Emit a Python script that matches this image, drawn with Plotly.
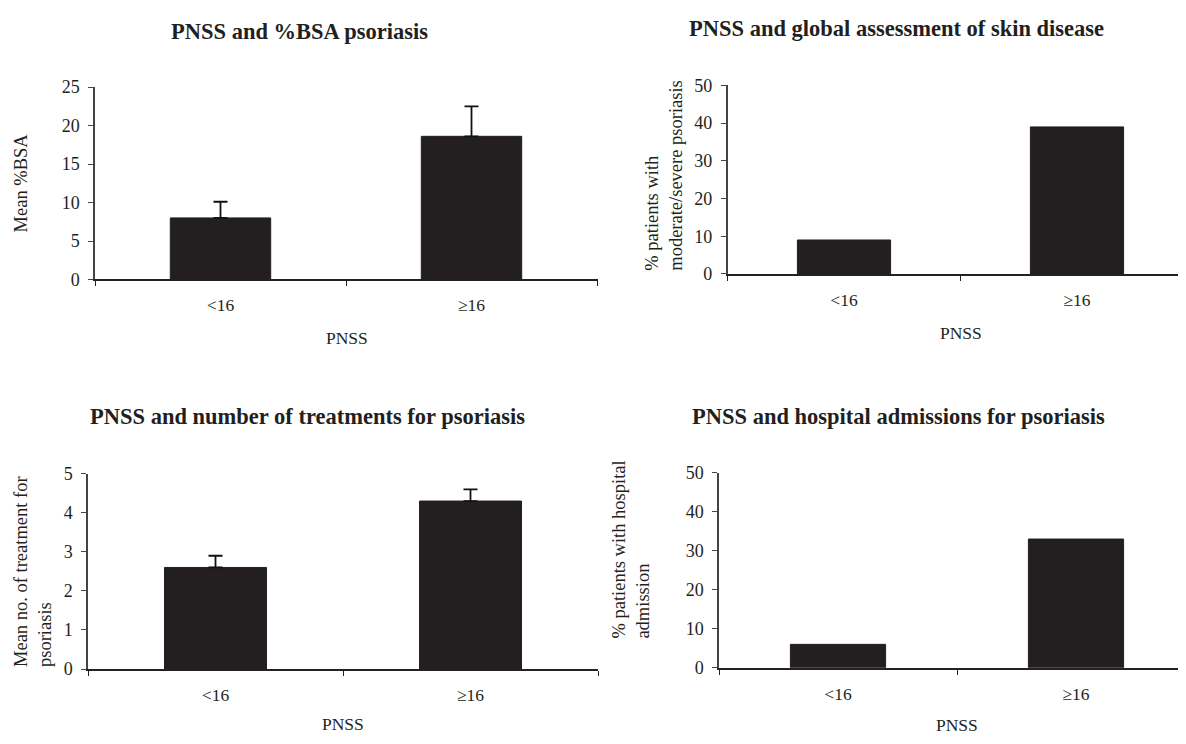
import plotly.graph_objects as go

# ---------------- data ----------------
categories = ["<16", "\u226516"]

bsa_mean = [8.0, 18.6]
bsa_err = [2.1, 3.9]

global_pct = [9, 39]

treat_mean = [2.6, 4.3]
treat_err = [0.3, 0.3]

hosp_pct = [6, 33]

titles = [
    "PNSS and %BSA psoriasis",
    "PNSS and global assessment of skin disease",
    "PNSS and number of treatments for psoriasis",
    "PNSS and hospital admissions for psoriasis",
]
ylabels = [
    "Mean %BSA",
    "% patients with<br>moderate/severe psoriasis",
    "Mean no. of treatment for<br>psoriasis",
    "% patients with hospital<br>admission",
]
xlabel = "PNSS"

# ---------------- style ----------------
# The page body keeps its default 8px margin; positions below are given in
# window pixels and converted to paper fractions with that offset.
OFF = 8
W, H = 1186, 744
FONT = "Liberation Serif, Times New Roman, serif"
TXT = "#231f20"
BAR = "#231f20"

def px(x):
    return (x - OFF) / W

def py(y):
    return 1 - (y - OFF) / H

RIGHT = OFF + W  # window x of the paper's right edge

fig = go.Figure()

err_style = dict(type="data", symmetric=False, color="#111111", thickness=1.8, width=7)

fig.add_trace(go.Bar(x=categories, y=bsa_mean, xaxis="x", yaxis="y",
                     error_y=dict(array=bsa_err, arrayminus=[0, 0], **err_style)))
fig.add_trace(go.Bar(x=categories, y=global_pct, xaxis="x2", yaxis="y2"))
fig.add_trace(go.Bar(x=categories, y=treat_mean, xaxis="x3", yaxis="y3",
                     error_y=dict(array=treat_err, arrayminus=[0, 0], **err_style)))
fig.add_trace(go.Bar(x=categories, y=hosp_pct, xaxis="x4", yaxis="y4"))

fig.update_traces(marker=dict(color=BAR, line=dict(color=BAR, width=1)),
                  showlegend=False, hoverinfo="x+y")

panels = [
    dict(x0=95, x1=598, cw=251, ytop=79, y0=276.7, rng=[0, 25], dt=5),
    dict(x0=727.5, x1=RIGHT, cw=233, ytop=77.3, y0=271, rng=[0, 50], dt=10),
    dict(x0=88, x1=598, cw=255, ytop=476.3, y0=677, rng=[0, 5], dt=1),
    dict(x0=719, x1=RIGHT, cw=238, ytop=475.3, y0=675.7, rng=[0, 50], dt=10),
]

layout = dict(
    width=W, height=H,
    margin=dict(l=0, r=0, t=0, b=0),
    paper_bgcolor="white", plot_bgcolor="white",
    bargap=0.6,
    font=dict(family=FONT, color=TXT, size=17),
    showlegend=False,
)

for i, p in enumerate(panels):
    sfx = "" if i == 0 else str(i + 1)
    span = (p["x1"] - p["x0"]) / p["cw"]
    layout["xaxis" + sfx] = dict(
        domain=[px(p["x0"]), min(1.0, px(p["x1"]))],
        anchor="y" + sfx,
        type="category",
        range=[-0.5, -0.5 + span],
        showline=True, linecolor="#222222", linewidth=1.5,
        ticks="outside", tickson="boundaries", ticklen=5, tickwidth=1.2,
        tickcolor="#222222",
        showgrid=False, zeroline=False,
        tickfont=dict(family=FONT, size=17.5, color=TXT),
        ticklabelstandoff=9,
        fixedrange=True,
    )
    layout["yaxis" + sfx] = dict(
        domain=[py(p["y0"]), py(p["ytop"])],
        anchor="x" + sfx,
        range=p["rng"],
        tick0=0, dtick=p["dt"],
        showline=True, linecolor="#444444", linewidth=1.5,
        ticks="outside", ticklen=5, tickwidth=1.2, tickcolor="#444444",
        showgrid=False, zeroline=False,
        tickfont=dict(family=FONT, size=18, color=TXT),
        ticklabelstandoff=5,
        fixedrange=True,
    )

annotations = []
title_pos = [(299, 21.7), (896, 18.3), (307, 417), (898, 417)]
for t, (x, y) in zip(titles, title_pos):
    annotations.append(dict(
        text="<b>" + t + "</b>", x=px(x), y=py(y), xref="paper", yref="paper",
        xanchor="center", yanchor="middle", showarrow=False,
        font=dict(family=FONT, size=22.5, color=TXT)))

xlab_pos = [(347, 336.7), (960.5, 332), (343, 734), (957, 735)]
for x, y in xlab_pos:
    annotations.append(dict(
        text=xlabel, x=px(x), y=py(y), xref="paper", yref="paper",
        xanchor="center", yanchor="middle", showarrow=False,
        font=dict(family=FONT, size=17.5, color=TXT)))

ylab_pos = [(20.5, 177.5), (664.6, 169.5), (32.3, 577), (630.8, 554.5)]
for t, (x, y) in zip(ylabels, ylab_pos):
    annotations.append(dict(
        text=t, x=px(x), y=py(y), xref="paper", yref="paper",
        xanchor="center", yanchor="middle", showarrow=False, textangle=-90,
        align="left",
        font=dict(family=FONT, size=18.5, color=TXT)))

layout["annotations"] = annotations
fig.update_layout(**layout)

fig.write_html("out.html")
